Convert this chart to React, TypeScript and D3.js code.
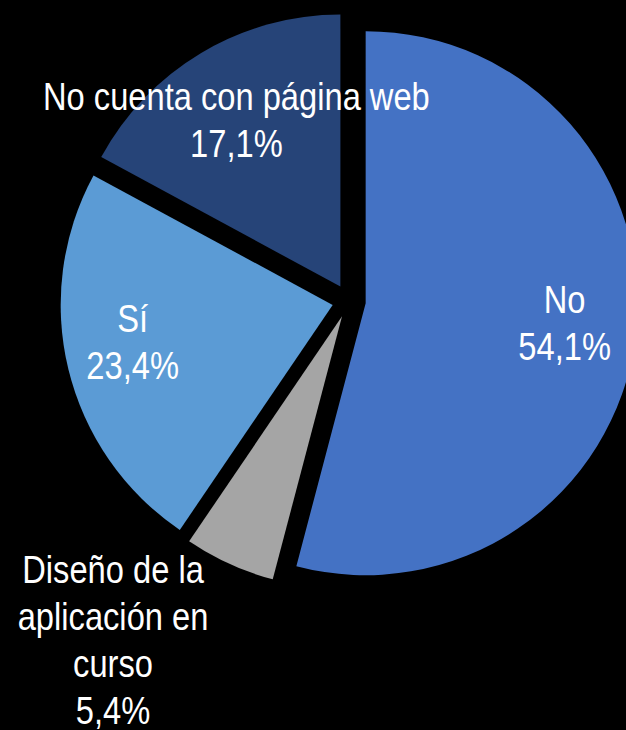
import React from "react";
import * as d3 from "d3";

const categories = ["No", "Diseño de la aplicación en curso", "Sí", "No cuenta con página web"];
const values = [54.1, 5.4, 23.4, 17.1];
const labelLines = [
  ["No", "54,1%"],
  ["Diseño de la", "aplicación en", "curso", "5,4%"],
  ["Sí", "23,4%"],
  ["No cuenta con página web", "17,1%"],
];
const colors = ["#4472C4", "#A5A5A5", "#5B9BD5", "#264478"];

const W = 626;
const H = 730;
const CX = 349;
const CY = 301;
const R = 272;
const EXPLODE = 16.8;
const FONT = 38;
const LINE_H = 47;
const NARROW = 0.86;
// label block offsets (centre of baselines) relative to each exploded slice's apex
const LABEL_OFFSETS: [number, number][] = [
  [199, 33],
  [-229, 337],
  [-200, 51],
  [-104, -153],
];

export default function App() {
  const pie = d3
    .pie<number>()
    .sort(null)
    .value((d) => d)
    .startAngle(0)
    .endAngle(2 * Math.PI);
  const arcs = pie(values);
  const arc = d3.arc<d3.PieArcDatum<number>>().innerRadius(0).outerRadius(R);

  return (
    <svg
      width={W}
      height={H}
      style={{ position: "absolute", left: 0, top: 0, background: "#000" }}
    >
      <rect x={0} y={0} width={W} height={H} fill="#000" />
      {arcs.map((a, i) => {
        const mid = (a.startAngle + a.endAngle) / 2;
        const dx = EXPLODE * Math.sin(mid);
        const dy = -EXPLODE * Math.cos(mid);
        return (
          <path
            key={categories[i]}
            d={arc(a) || ""}
            transform={`translate(${CX + dx},${CY + dy})`}
            fill={colors[i]}
          />
        );
      })}
      {arcs.map((a, i) => {
        const mid = (a.startAngle + a.endAngle) / 2;
        const ex = CX + EXPLODE * Math.sin(mid);
        const ey = CY - EXPLODE * Math.cos(mid);
        const lx = ex + LABEL_OFFSETS[i][0];
        const ly = ey + LABEL_OFFSETS[i][1];
        const lines = labelLines[i];
        const n = lines.length;
        const firstBaseline = ly - ((n - 1) * LINE_H) / 2;
        return (
          <text
            key={"l" + i}
            x={lx}
            textAnchor="middle"
            fill="#fff"
            fontSize={FONT}
            fontFamily="'Liberation Sans', Arial, sans-serif"
            transform={`translate(${lx},0) scale(${NARROW},1) translate(${-lx},0)`}
          >
            {lines.map((t, j) => (
              <tspan key={j} x={lx} y={firstBaseline + j * LINE_H}>
                {t}
              </tspan>
            ))}
          </text>
        );
      })}
    </svg>
  );
}
